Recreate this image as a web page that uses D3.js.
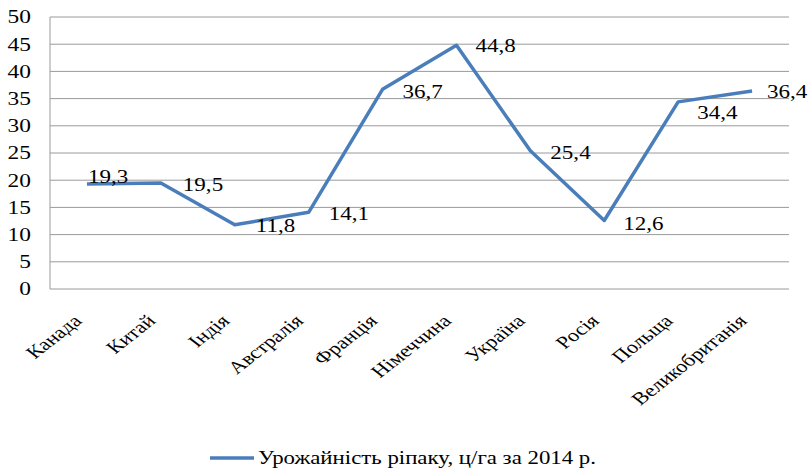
<!DOCTYPE html>
<html>
<head>
<meta charset="utf-8">
<script src="https://cdn.jsdelivr.net/npm/d3@7"></script>
<style>
  body { margin: 0; background: #fff; }
  svg text { font-family: "Liberation Serif", Tinos, serif; }
</style>
</head>
<body>
<div id="chart"></div>
<script>
// data
var countries = ['Канада', 'Китай', 'Індія', 'Австралія', 'Франція',
                 'Німеччина', 'Україна', 'Росія', 'Польща', 'Великобританія'];
var yields = [19.3, 19.5, 11.8, 14.1, 36.7, 44.8, 25.4, 12.6, 34.4, 36.4];
var yTicks = [0, 5, 10, 15, 20, 25, 30, 35, 40, 45, 50];
var seriesName = 'Урожайність ріпаку, ц/га за 2014 р.';

// label nudges (dx, dy) from the point, as placed in the original
var labelNudge = [[1, -7], [22, 2], [21, 1], [20, 1], [20, 2], [19, 0], [20, 2], [19, 3], [19, 11], [15, 1]];

var width = 811, height = 469;
var margin = { left: 50, right: 22, top: 17, bottom: 180 };
var stretch = 1.28; // the original text is drawn wide
var blue = '#4a7ebb', grid = '#9a9a9a';

var svg = d3.select('#chart').append('svg')
    .attr('width', width).attr('height', height);

var x = d3.scaleBand().domain(countries)
    .range([margin.left, width - margin.right]);
var y = d3.scaleLinear().domain([0, 50])
    .range([height - margin.bottom, margin.top]);
var cx = function(d) { return x(d) + x.bandwidth() / 2; };

function serifText(sel, size) {
    return sel.attr('font-family', 'Liberation Serif')
        .style('font-family', 'Liberation Serif')
        .style('font-size', size);
}

// gridlines
svg.append('g').selectAll('line')
    .data(yTicks.slice(1)).enter().append('line')
    .attr('x1', margin.left).attr('x2', width - margin.right)
    .attr('y1', function(d) { return y(d); })
    .attr('y2', function(d) { return y(d); })
    .attr('stroke', grid).attr('stroke-width', 1);

// axis lines
svg.append('line')
    .attr('x1', margin.left).attr('x2', margin.left)
    .attr('y1', y(0)).attr('y2', y(50))
    .attr('stroke', grid);
svg.append('line')
    .attr('x1', margin.left).attr('x2', width - margin.right)
    .attr('y1', y(0)).attr('y2', y(0))
    .attr('stroke', grid);

// y tick labels
svg.append('g').selectAll('text')
    .data(yTicks).enter().append('text')
    .attr('transform', function(d) {
        return 'translate(31,' + y(d) + ') scale(1.3,1)';
    })
    .attr('dy', '0.35em')
    .style('text-anchor', 'end')
    .call(serifText, '18px')
    .text(function(d) { return d; });

// category labels
svg.append('g').selectAll('text')
    .data(countries).enter().append('text')
    .attr('transform', function(d) {
        return 'translate(' + (cx(d) - 4) + ',' + (y(0) + 33) + ') scale(' + stretch + ',1) rotate(-45)';
    })
    .style('text-anchor', 'end')
    .call(serifText, '17.5px')
    .text(function(d) { return d; });

// line
var line = d3.line()
    .x(function(d, i) { return cx(countries[i]); })
    .y(function(d) { return y(d); });

svg.append('path')
    .datum(yields)
    .attr('d', line)
    .attr('fill', 'none')
    .attr('stroke', blue)
    .attr('stroke-width', 3.5)
    .attr('stroke-linejoin', 'round');

// data labels
svg.append('g').selectAll('text')
    .data(yields).enter().append('text')
    .attr('transform', function(d, i) {
        return 'translate(' + (cx(countries[i]) + labelNudge[i][0]) + ',' +
            (y(d) + labelNudge[i][1]) + ') scale(' + stretch + ',1)';
    })
    .attr('dy', '0.35em')
    .call(serifText, '18px')
    .text(function(d) { return String(d).replace('.', ','); });

// legend
svg.append('line')
    .attr('x1', 210).attr('x2', 254)
    .attr('y1', 458).attr('y2', 458)
    .attr('stroke', blue).attr('stroke-width', 3.5);
svg.append('text')
    .attr('x', 258).attr('y', 464)
    .call(serifText, '18px')
    .attr('textLength', 338)
    .attr('lengthAdjust', 'spacingAndGlyphs')
    .text(seriesName);
</script>
</body>
</html>
